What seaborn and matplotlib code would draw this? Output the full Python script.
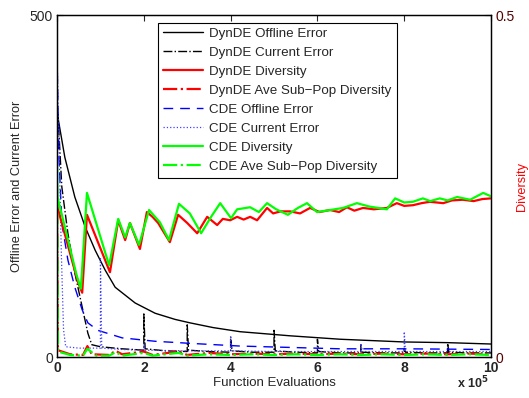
import numpy as np
import pandas as pd
import matplotlib
matplotlib.use("Agg")
import matplotlib.pyplot as plt
import seaborn as sns

# x values are in units of 1e5 function evaluations

# DynDE offline error
dyn_off_x = [0, 0.03, 0.18, 0.41, 0.65, 0.88, 1.11, 1.34, 1.8, 2.26, 2.72, 3.06, 3.6, 4.22, 5.37, 6.52, 8.0, 9.0, 10.0]
dyn_off_y = [360, 347, 292, 234, 190, 156, 127, 102, 79, 64, 55, 50, 43, 37, 31, 26, 22, 21, 19]

# DynDE current error (spikes at each change)
dyn_cur_x = [0, 0.11, 0.25, 0.41, 0.58, 0.71, 0.8, 1.0, 1.5,
             2.0, 2.0, 2.03, 2.5, 3.0, 3.0, 3.03, 3.5, 4.0, 4.0, 4.03, 4.5,
             5.0, 5.0, 5.03, 5.5, 6.0, 6.0, 6.03, 6.5, 7.0, 7.0, 7.03, 7.5,
             8.0, 8.0, 8.03, 8.5, 9.0, 9.0, 9.03, 9.5, 10.0]
dyn_cur_y = [380, 249, 181, 123, 73, 35, 18, 15, 12,
             10, 63, 12, 9, 8, 47, 10, 8, 7, 30, 9, 7,
             7, 39, 9, 7, 6, 26, 8, 6, 6, 18, 7, 6,
             6, 12, 7, 6, 6, 20, 7, 6, 6]

# CDE offline error
cde_off_x = [0, 0.04, 0.11, 0.25, 0.41, 0.58, 0.71, 0.94, 1.5, 2.26, 3.06, 4.22, 5.37, 6.52, 8.0, 10.0]
cde_off_y = [440, 300, 196, 142, 102, 69, 50, 39, 28, 23, 20, 16, 14, 12, 12, 11]

# CDE current error
cde_cur_x = [0, 0.05, 0.1, 0.15, 0.2, 0.5, 1.0, 1.0, 1.03, 1.5,
             2.0, 2.0, 2.03, 3.0, 4.0, 4.0, 4.03, 5.0, 6.0, 7.0, 7.0, 7.03,
             8.0, 8.0, 8.03, 9.0, 10.0]
cde_cur_y = [440, 300, 150, 40, 15, 13, 13, 146, 13, 11,
             10, 20, 10, 9, 9, 29, 9, 8, 8, 8, 20, 8,
             8, 37, 8, 8, 8]

# DynDE diversity
dyn_div_x = [0, 0.01, 0.48, 0.58, 0.69, 1.22, 1.41, 1.57, 1.68, 1.91, 2.07, 2.2, 2.33, 2.60, 2.79,
             3.0, 3.23, 3.46, 3.69, 3.82, 3.99, 4.15, 4.3, 4.45, 4.61, 4.84, 4.98, 5.15, 5.37, 5.6, 5.83,
             6.05, 6.29, 6.5, 6.68, 6.85, 7.05, 7.3, 7.60, 7.83, 8.0, 8.20, 8.4, 8.59, 8.9, 9.1, 9.35,
             9.6, 9.8, 10.0]
dyn_div_y = [0.23, 0.219, 0.11, 0.094, 0.208, 0.124, 0.200, 0.171, 0.196, 0.158, 0.212, 0.205, 0.196, 0.168, 0.208,
             0.196, 0.181, 0.205, 0.193, 0.202, 0.200, 0.205, 0.201, 0.205, 0.200, 0.218, 0.210, 0.213, 0.213, 0.210, 0.218,
             0.212, 0.215, 0.212, 0.219, 0.214, 0.218, 0.216, 0.218, 0.225, 0.221, 0.222, 0.225, 0.227, 0.225, 0.229, 0.230,
             0.228, 0.231, 0.232]

# CDE diversity
cde_div_x = [0, 0.01, 0.45, 0.55, 0.69, 1.20, 1.41, 1.57, 1.68, 1.89, 2.12, 2.37, 2.58, 2.81,
             3.06, 3.32, 3.55, 3.76, 4.01, 4.15, 4.45, 4.65, 4.84, 5.05, 5.32, 5.55, 5.76, 5.99, 6.3, 6.59, 6.91,
             7.2, 7.60, 7.79, 8.0, 8.20, 8.43, 8.6, 8.82, 9.0, 9.22, 9.52, 9.82, 10.0]
cde_div_y = [0.28, 0.234, 0.12, 0.10, 0.240, 0.134, 0.202, 0.175, 0.196, 0.164, 0.215, 0.197, 0.171, 0.224,
             0.210, 0.181, 0.205, 0.225, 0.203, 0.216, 0.219, 0.212, 0.225, 0.216, 0.208, 0.218, 0.225, 0.212, 0.215, 0.218, 0.225,
             0.220, 0.216, 0.232, 0.226, 0.227, 0.232, 0.228, 0.232, 0.229, 0.234, 0.230, 0.240, 0.235]

# average sub-population diversity
dyn_sub_x = [0, 0.02, 0.3, 0.6, 0.7, 0.8, 1.2, 1.35, 1.5, 2.0, 2.2, 2.8, 3.0, 3.5, 4.0, 4.5,
             5.0, 5.5, 6.0, 6.5, 7.0, 7.5, 8.0, 8.5, 9.0, 9.5, 10.0]
dyn_sub_y = [0.25, 0.010, 0.004, 0.003, 0.016, 0.004, 0.003, 0.009, 0.004, 0.008, 0.003, 0.008,
             0.003, 0.006, 0.004, 0.005, 0.004, 0.005, 0.004, 0.005, 0.004, 0.005, 0.004,
             0.005, 0.004, 0.005, 0.004]
cde_sub_x = [0, 0.02, 0.3, 0.6, 0.7, 0.9, 1.2, 1.35, 1.5, 2.0, 2.2, 2.8, 3.0, 3.5, 4.0, 4.5,
             5.0, 5.5, 6.0, 6.5, 7.0, 7.5, 8.0, 8.5, 9.0, 9.5, 10.0]
cde_sub_y = [0.28, 0.008, 0.003, 0.002, 0.012, 0.002, 0.002, 0.007, 0.002, 0.006, 0.002, 0.006,
             0.002, 0.004, 0.003, 0.004, 0.003, 0.004, 0.003, 0.004, 0.003, 0.004, 0.003,
             0.004, 0.003, 0.004, 0.003]

sns.set_style("white")
plt.rcParams['font.family'] = ['Liberation Sans', 'DejaVu Sans']

fig = plt.figure(figsize=(5.29, 3.98), dpi=100)
ax = fig.add_axes([0.1078, 0.103, 0.8204, 0.859])
ax2 = ax.twinx()

kw = dict(estimator=None, sort=False, errorbar=None)

# error lines on the left axis
sns.lineplot(x=dyn_off_x, y=dyn_off_y, ax=ax, color='black', lw=1.0, label='DynDE Offline Error', **kw)
sns.lineplot(x=dyn_cur_x, y=dyn_cur_y, ax=ax, color='black', lw=1.0, linestyle='-.', label='DynDE Current Error', **kw)
sns.lineplot(x=cde_off_x, y=cde_off_y, ax=ax, color='#0000ff', lw=1.0, linestyle=(0, (7, 5)), label='CDE Offline Error', **kw)
sns.lineplot(x=cde_cur_x, y=cde_cur_y, ax=ax, color='#4040ff', lw=0.9, linestyle=':', label='CDE Current Error', **kw)

# diversity lines on the right axis
sns.lineplot(x=dyn_div_x, y=dyn_div_y, ax=ax2, color='#ff0000', lw=1.6, label='DynDE Diversity', **kw)
sns.lineplot(x=dyn_sub_x, y=dyn_sub_y, ax=ax2, color='#ff0000', lw=1.6, linestyle='-.', label='DynDE Ave Sub\u2212Pop Diversity', **kw)
sns.lineplot(x=cde_div_x, y=cde_div_y, ax=ax2, color='#00ff00', lw=1.6, label='CDE Diversity', **kw)
sns.lineplot(x=cde_sub_x, y=cde_sub_y, ax=ax2, color='#00ff00', lw=1.6, linestyle='-.', label='CDE Ave Sub\u2212Pop Diversity', **kw)

for a in (ax, ax2):
    if a.get_legend() is not None:
        a.get_legend().remove()

ax.set_xlim(0, 10)
ax.set_ylim(0, 500)
ax2.set_ylim(0, 0.5)
ax.set_xticks([0, 2, 4, 6, 8, 10])
ax.set_xticklabels(['0', '2', '4', '6', '8', '10'], fontweight='bold', fontsize=10)
ax.set_yticks([0, 500])
ax.set_yticklabels(['0', '500'], fontsize=10)
ax2.set_yticks([0, 0.5])
ax2.set_yticklabels(['0', '0.5'], fontsize=10, color='#550000')

ax.tick_params(axis='both', direction='in', length=4, width=0.8, top=True, pad=3)
ax2.tick_params(axis='y', direction='in', length=4, width=0.8, pad=3)

for a in (ax, ax2):
    for s in a.spines.values():
        s.set_color('black')
        s.set_linewidth(0.9)

ax.set_xlabel('Function Evaluations', fontsize=9.5, labelpad=1)
ax.set_ylabel('Offline Error and Current Error', fontsize=9.2, labelpad=5)
ax2.set_ylabel('Diversity', fontsize=9.2, color='#ff0000')
ax2.yaxis.set_label_coords(1.058, 0.5)

fig.text(0.925, 0.038, r'x 10$^{\mathbf{5}}$', fontsize=9, fontweight='bold', ha='right', va='center')

# legend with both axes, ordered as in the original
h1, l1 = ax.get_legend_handles_labels()
h2, l2 = ax2.get_legend_handles_labels()
hd = dict(zip(l1 + l2, h1 + h2))
order = ['DynDE Offline Error', 'DynDE Current Error', 'DynDE Diversity', 'DynDE Ave Sub\u2212Pop Diversity',
         'CDE Offline Error', 'CDE Current Error', 'CDE Diversity', 'CDE Ave Sub\u2212Pop Diversity']
leg = ax2.legend([hd[k] for k in order], order, loc='upper left', bbox_to_anchor=(0.233, 0.977),
                 fontsize=9.6, frameon=True, fancybox=False, edgecolor='black', framealpha=1,
                 handlelength=3.0, handletextpad=0.5, labelspacing=0.5, borderpad=0.35,
                 borderaxespad=0)
leg.get_frame().set_linewidth(0.8)

fig.savefig('out.png', dpi=100)
